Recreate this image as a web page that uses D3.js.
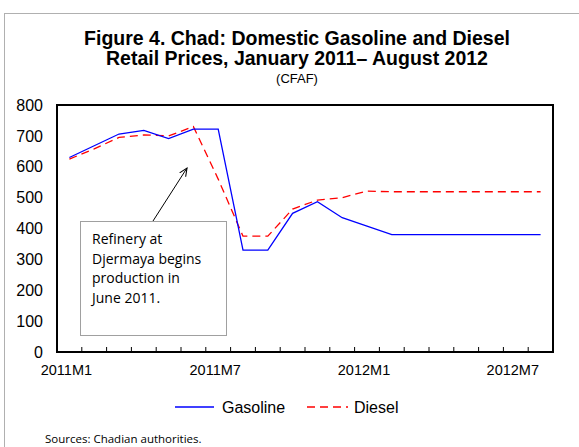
<!DOCTYPE html>
<meta charset="utf-8">
<style>
  body { margin: 0; background: #fff; }
  text { font-family: Arial, "Liberation Sans", sans-serif; fill: #000; }
  .note { font-family: "Open Sans", "Noto Sans", sans-serif; }
</style>
<svg width="579" height="447"></svg>
<script src="https://d3js.org/d3.v7.min.js"></script>
<script>
  var months = ["2011M1", "2011M2", "2011M3", "2011M4", "2011M5", "2011M6", "2011M7", "2011M8",
    "2011M9", "2011M10", "2011M11", "2011M12", "2012M1", "2012M2", "2012M3", "2012M4",
    "2012M5", "2012M6", "2012M7", "2012M8"];
  var gasoline = [630, 668, 706, 718, 691, 722, 722, 330, 330, 449, 487, 435, 408, 380, 380, 380,
    380, 380, 380, 380];
  var diesel = [625, 658, 695, 703, 700, 730, 560, 375, 375, 463, 492, 500, 521, 519, 519, 519,
    519, 519, 519, 519];
  var xLabels = ["2011M1", "2011M7", "2012M1", "2012M7"];
  var yTicks = [0, 100, 200, 300, 400, 500, 600, 700, 800];

  var svg = d3.select("svg"),
    margin = { top: 105, right: 26, bottom: 95, left: 57 },
    width = +svg.attr("width") - margin.left - margin.right,
    height = +svg.attr("height") - margin.top - margin.bottom;

  // outer frame, runs off the right and bottom of the picture
  svg.append("rect")
    .attr("x", 4.5).attr("y", 13.5)
    .attr("width", 600).attr("height", 460)
    .attr("fill", "none")
    .attr("stroke", "#b0b0b0");

  svg.append("text").attr("x", 297).attr("y", 45)
    .attr("text-anchor", "middle").style("font-size", "19.5px").style("font-weight", "bold")
    .text("Figure 4. Chad: Domestic Gasoline and Diesel");
  svg.append("text").attr("x", 297).attr("y", 65)
    .attr("text-anchor", "middle").style("font-size", "19.5px").style("font-weight", "bold")
    .text("Retail Prices, January 2011\u2013 August 2012");
  svg.append("text").attr("x", 297).attr("y", 83)
    .attr("text-anchor", "middle").style("font-size", "13px")
    .text("(CFAF)");

  var x = d3.scaleBand().domain(months).range([0, width]);
  var y = d3.scaleLinear().domain([0, 800]).range([height, 0]);

  var g = svg.append("g")
    .attr("transform", "translate(" + margin.left + "," + margin.top + ")");

  // y axis labels
  var yAxis = d3.axisLeft(y).tickValues(yTicks).tickSize(0).tickPadding(14);
  g.append("g").call(yAxis)
    .call(function(a) {
      a.select(".domain").remove();
      a.selectAll("text").style("font-size", "16px").style("font-family", "Arial, 'Liberation Sans', sans-serif");
    });

  // x tick marks at category boundaries, pointing inward
  var bounds = months.slice(1).map(function(m) { return x(m); });
  g.selectAll(".xtick").data(bounds).enter().append("line")
    .attr("x1", function(d) { return d; }).attr("x2", function(d) { return d; })
    .attr("y1", height).attr("y2", height - 5)
    .attr("stroke", "#000");

  var xAxis = d3.axisBottom(x).tickValues(xLabels).tickSize(0).tickPadding(13);
  g.append("g").attr("transform", "translate(-3," + height + ")").call(xAxis)
    .call(function(a) {
      a.select(".domain").remove();
      a.selectAll("text").style("font-size", "14.5px").style("font-family", "Arial, 'Liberation Sans', sans-serif");
    });

  // plot area frame
  g.append("rect")
    .attr("width", width).attr("height", height)
    .attr("fill", "none").attr("stroke", "#000").attr("stroke-width", 2);

  var line = d3.line()
    .x(function(d, i) { return x(months[i]) + x.bandwidth() / 2; })
    .y(function(d) { return y(d); });

  g.append("path").datum(diesel)
    .attr("d", line).attr("fill", "none")
    .attr("stroke", "#ff0000").attr("stroke-width", 1.3)
    .attr("stroke-dasharray", "8,5");

  g.append("path").datum(gasoline)
    .attr("d", line).attr("fill", "none")
    .attr("stroke", "#0000ff").attr("stroke-width", 1.3);

  // annotation
  svg.append("defs").append("marker")
    .attr("id", "arr").attr("viewBox", "0 0 10 10")
    .attr("refX", 9).attr("refY", 5)
    .attr("markerWidth", 9).attr("markerHeight", 9)
    .attr("orient", "auto")
    .append("path").attr("d", "M0,1 L9,5 L0,9")
    .attr("fill", "none").attr("stroke", "#000").attr("stroke-width", 1.2);

  svg.append("line")
    .attr("x1", 153).attr("y1", 221).attr("x2", 187).attr("y2", 168)
    .attr("stroke", "#000").attr("stroke-width", 1)
    .attr("marker-end", "url(#arr)");

  svg.append("rect")
    .attr("x", 80.5).attr("y", 221.5).attr("width", 146).attr("height", 114)
    .attr("fill", "#fff").attr("stroke", "#a0a0a0");

  var noteLines = ["Refinery at", "Djermaya begins", "production in", "June 2011."];
  svg.selectAll(".noteline").data(noteLines).enter().append("text")
    .attr("class", "note")
    .attr("x", 92)
    .attr("y", function(d, i) { return 244 + i * 19.5; })
    .style("font-size", "14px")
    .text(function(d) { return d; });

  // legend
  var legend = svg.append("g");
  legend.append("line").attr("x1", 175).attr("x2", 214).attr("y1", 407).attr("y2", 407)
    .attr("stroke", "#0000ff").attr("stroke-width", 1.3);
  legend.append("text").attr("x", 222).attr("y", 413).style("font-size", "16px").text("Gasoline");
  legend.append("line").attr("x1", 307).attr("x2", 348).attr("y1", 407).attr("y2", 407)
    .attr("stroke", "#ff0000").attr("stroke-width", 1.3).attr("stroke-dasharray", "8,5");
  legend.append("text").attr("x", 354).attr("y", 413).style("font-size", "16px").text("Diesel");

  svg.append("text").attr("class", "note").attr("x", 45).attr("y", 443)
    .style("font-size", "11.5px").text("Sources: Chadian authorities.");
</script>
